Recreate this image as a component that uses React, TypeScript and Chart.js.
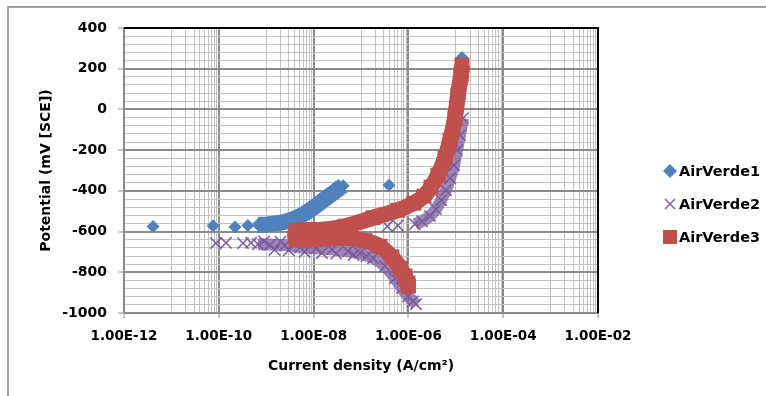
import React, { useEffect, useRef } from 'react';
import { Chart, registerables } from 'chart.js';

Chart.register(...registerables);

type Pt = [number, number]; // [current density (A/cm²), potential (mV vs SCE)]

const seriesNames = ['AirVerde1', 'AirVerde2', 'AirVerde3'];
const seriesColors = ['#4F81BD', '#8064A2', '#C0504D'];

const xMajorTicks = [1e-12, 1e-10, 1e-8, 1e-6, 1e-4, 1e-2];
const xTickLabels = ['1.00E-12', '1.00E-10', '1.00E-08', '1.00E-06', '1.00E-04', '1.00E-02'];
const yTickLabels = [400, 200, 0, -200, -400, -600, -800, -1000];
const yMinorStep = 40;

// AirVerde1 (blue diamonds)
const airVerde1Single: Pt[] = [
  [4.1e-12, -575], [7.6e-11, -572], [2.2e-10, -578], [4.1e-10, -570],
  [3.9e-7, -372], [1.35e-5, 255],
];
const airVerde1Band: Pt[] = [
  [6.7e-10, -566], [1.0e-9, -566], [1.3e-9, -562], [1.95e-9, -557], [2.9e-9, -547],
  [4.3e-9, -532], [6.3e-9, -513], [9.2e-9, -488], [1.36e-8, -459], [2.0e-8, -429],
  [2.8e-8, -405], [3.6e-8, -385], [4.2e-8, -375],
];

// AirVerde2 (purple crosses)
const airVerde2Single: Pt[] = [
  [8.7e-11, -657], [1.42e-10, -655], [3.24e-10, -657], [4.8e-10, -655],
  [9e-10, -648], [1.5e-9, -690], [2e-9, -650], [3e-9, -692], [4e-9, -655],
  [6.5e-9, -700], [9e-9, -660], [1.5e-8, -705], [3e-8, -708], [7e-8, -715],
  [1.3e-7, -722], [3.6e-7, -574], [6.0e-7, -570],
];
const airVerde2Cathodic: Pt[] = [
  [6.7e-10, -662], [1.2e-9, -664], [2.5e-9, -667], [5.2e-9, -677], [1.12e-8, -682],
  [2.44e-8, -687], [5.3e-8, -697], [9.5e-8, -706], [1.79e-7, -731], [3.2e-7, -770],
  [5.2e-7, -829], [7.3e-7, -878], [9.8e-7, -918], [1.25e-6, -942], [1.45e-6, -957],
];
const airVerde2Anodic: Pt[] = [
  [1.38e-6, -564], [1.94e-6, -549], [2.86e-6, -524], [3.8e-6, -490], [4.9e-6, -446],
  [6.2e-6, -397], [7.6e-6, -338], [9.2e-6, -274], [1.06e-5, -200], [1.23e-5, -126],
  [1.42e-5, -43],
];

// AirVerde3 (red squares), scan from cathodic end to anodic end
const airVerde3Scan: Pt[] = [
  [1.0e-6, -868], [9.8e-7, -854], [8.5e-7, -819], [6.7e-7, -780], [4.5e-7, -725],
  [2.5e-7, -672], [1.21e-7, -645], [4.6e-8, -630], [1.36e-8, -636], [4.3e-9, -638],
  [4.3e-9, -597], [1.36e-8, -592], [4.6e-8, -574], [1.79e-7, -532], [6.0e-7, -495],
  [1.31e-6, -460], [2.13e-6, -426], [3.0e-6, -382], [4.2e-6, -323], [5.9e-6, -239],
  [7.6e-6, -151], [9.6e-6, -43], [1.11e-5, 71], [1.29e-5, 169], [1.35e-5, 218],
];

type DP = { x: number; y: number | null };
function toData(bands: Pt[][], singles: Pt[]): DP[] {
  const out: DP[] = [];
  bands.forEach((b) => {
    b.forEach(([x, y]) => out.push({ x, y }));
    out.push({ x: b[b.length - 1][0], y: null });
  });
  singles.forEach(([x, y]) => {
    out.push({ x, y });
    out.push({ x, y: null });
  });
  return out;
}

const isXMajor = (v: number) => xMajorTicks.findIndex((t) => Math.abs(Math.log10(v) - Math.log10(t)) < 1e-6);

function xGridValues(): number[] {
  const vals: number[] = [];
  for (let i = 0; i < xMajorTicks.length - 1; i++) {
    vals.push(xMajorTicks[i]);
    const mid = xMajorTicks[i] * 10;
    for (let m = 1; m <= 9; m++) vals.push(m * mid);
  }
  vals.push(xMajorTicks[xMajorTicks.length - 1]);
  return vals;
}

function yGridValues(): number[] {
  const top = yTickLabels[0];
  const bottom = yTickLabels[yTickLabels.length - 1];
  const vals: number[] = [];
  for (let v = bottom; v <= top; v += yMinorStep) vals.push(v);
  return vals;
}

const MAJOR = '#8a8a8a';
const MINOR = '#c2c2c2';
const FONT = '"DejaVu Sans", sans-serif';

const plotBorder = {
  id: 'plotBorder',
  beforeDatasetsDraw(chart: any) {
    const { ctx, chartArea: a } = chart;
    ctx.save();
    ctx.strokeStyle = '#000';
    ctx.lineWidth = 2;
    ctx.beginPath();
    ctx.moveTo(a.left, a.top);
    ctx.lineTo(a.right, a.top);
    ctx.lineTo(a.right, a.bottom);
    ctx.stroke();
    ctx.restore();
  },
};

const sideLegend = {
  id: 'sideLegend',
  afterDraw(chart: any) {
    const ctx = chart.ctx;
    const rows = [171, 204, 237];
    const cx = 670;
    ctx.save();
    ctx.font = `bold 14.5px ${FONT}`;
    ctx.textBaseline = 'middle';
    ctx.textAlign = 'left';
    seriesNames.forEach((name, i) => {
      const cy = rows[i];
      ctx.fillStyle = seriesColors[i];
      ctx.strokeStyle = seriesColors[i];
      if (i === 0) {
        ctx.beginPath();
        ctx.moveTo(cx, cy - 7);
        ctx.lineTo(cx + 7, cy);
        ctx.lineTo(cx, cy + 7);
        ctx.lineTo(cx - 7, cy);
        ctx.closePath();
        ctx.fill();
      } else if (i === 1) {
        ctx.lineWidth = 1.5;
        ctx.beginPath();
        ctx.moveTo(cx - 5, cy - 5);
        ctx.lineTo(cx + 5, cy + 5);
        ctx.moveTo(cx - 5, cy + 5);
        ctx.lineTo(cx + 5, cy - 5);
        ctx.stroke();
      } else {
        ctx.fillRect(cx - 7, cy - 7, 14, 14);
      }
      ctx.fillStyle = '#000';
      ctx.fillText(name, 679, cy + 1);
    });
    ctx.restore();
  },
};

export default function App() {
  const ref = useRef<HTMLCanvasElement>(null);

  useEffect(() => {
    if (!ref.current) return;
    const chart = new Chart(ref.current, {
      type: 'scatter',
      data: {
        datasets: [
          {
            label: seriesNames[0],
            data: toData([airVerde1Band], airVerde1Single) as any,
            showLine: true,
            borderColor: seriesColors[0],
            backgroundColor: seriesColors[0],
            borderWidth: 16,
            borderJoinStyle: 'round',
            tension: 0.2,
            pointStyle: 'rectRot',
            pointRadius: 6.5,
            pointBorderWidth: 0,
            pointBackgroundColor: seriesColors[0],
            order: 2,
          },
          {
            label: seriesNames[1],
            data: toData([airVerde2Cathodic, airVerde2Anodic], airVerde2Single) as any,
            showLine: true,
            borderColor: 'rgba(128,100,162,0.78)',
            backgroundColor: seriesColors[1],
            borderWidth: 12,
            tension: 0.2,
            pointStyle: 'crossRot',
            pointRadius: 8,
            pointBorderWidth: 1.5,
            pointBorderColor: '#7a5c9e',
            order: 1,
          },
          {
            label: seriesNames[2],
            data: toData([airVerde3Scan], []) as any,
            showLine: true,
            borderColor: seriesColors[2],
            backgroundColor: seriesColors[2],
            borderWidth: 16,
            borderJoinStyle: 'round',
            tension: 0.25,
            pointStyle: 'rect',
            pointRadius: 10.6,
            pointBorderWidth: 0,
            pointBackgroundColor: seriesColors[2],
            order: 0,
          },
        ],
      },
      options: {
        animation: false,
        responsive: false,
        maintainAspectRatio: false,
        devicePixelRatio: 1,
        events: [],
        layout: { padding: { left: 0, right: 168, top: 28, bottom: 0 } },
        plugins: {
          legend: { display: false },
          tooltip: { enabled: false },
        },
        scales: {
          x: {
            type: 'logarithmic',
            min: xMajorTicks[0],
            max: xMajorTicks[xMajorTicks.length - 1],
            afterBuildTicks: (axis: any) => {
              axis.ticks = xGridValues().map((value) => ({ value }));
            },
            afterFit: (axis: any) => {
              axis.height = 83;
            },
            ticks: {
              autoSkip: false,
              maxRotation: 0,
              minRotation: 0,
              padding: 10,
              color: '#000',
              font: { family: FONT, size: 13.5, weight: 'bold' },
              callback: (v: any) => {
                const i = isXMajor(Number(v));
                return i >= 0 ? xTickLabels[i] : '';
              },
            },
            grid: {
              color: (c: any) => (c.tick && isXMajor(c.tick.value) >= 0 ? MAJOR : MINOR),
              lineWidth: (c: any) => (c.tick && isXMajor(c.tick.value) >= 0 ? 2 : 1),
              tickColor: (c: any) => (c.tick && isXMajor(c.tick.value) >= 0 ? MAJOR : 'rgba(0,0,0,0)'),
              tickLength: 5,
              tickWidth: 1,
            },
            border: { color: MAJOR, width: 1 },
            title: {
              display: true,
              text: 'Current density (A/cm²)',
              color: '#000',
              font: { family: FONT, size: 14, weight: 'bold' },
              padding: { top: 0, bottom: 21.6 },
            },
          },
          y: {
            type: 'linear',
            min: yTickLabels[yTickLabels.length - 1],
            max: yTickLabels[0],
            afterBuildTicks: (axis: any) => {
              axis.ticks = yGridValues().map((value) => ({ value }));
            },
            afterFit: (axis: any) => {
              axis.width = 124;
            },
            ticks: {
              autoSkip: false,
              padding: 11,
              color: '#000',
              font: { family: FONT, size: 14, weight: 'bold' },
              callback: (v: any) => (yTickLabels.includes(Number(v)) ? String(v) : ''),
            },
            grid: {
              color: (c: any) => (c.tick && yTickLabels.includes(c.tick.value) ? MAJOR : MINOR),
              lineWidth: (c: any) => (c.tick && yTickLabels.includes(c.tick.value) ? 2 : 1),
              tickColor: (c: any) => (c.tick && yTickLabels.includes(c.tick.value) ? MAJOR : 'rgba(0,0,0,0)'),
              tickLength: 6,
              tickWidth: 1,
            },
            border: { color: MAJOR, width: 1 },
            title: {
              display: true,
              text: 'Potential (mV [SCE])',
              color: '#000',
              font: { family: FONT, size: 14, weight: 'bold' },
              padding: { top: 37.5, bottom: 0 },
            },
          },
        },
      } as any,
      plugins: [plotBorder, sideLegend],
    });
    return () => chart.destroy();
  }, []);

  return (
    <div style={{ position: 'absolute', left: 0, top: 0, width: 766, height: 396, overflow: 'hidden', background: '#fff' }}>
      <div
        style={{
          position: 'absolute', left: 7, top: 6, width: 820, height: 500,
          borderLeft: '2px solid #a0a0a0', borderTop: '2px solid #a0a0a0', boxSizing: 'border-box',
        }}
      />
      <canvas ref={ref} width={766} height={396} style={{ position: 'absolute', left: 0, top: 0, width: 766, height: 396 }} />
    </div>
  );
}
